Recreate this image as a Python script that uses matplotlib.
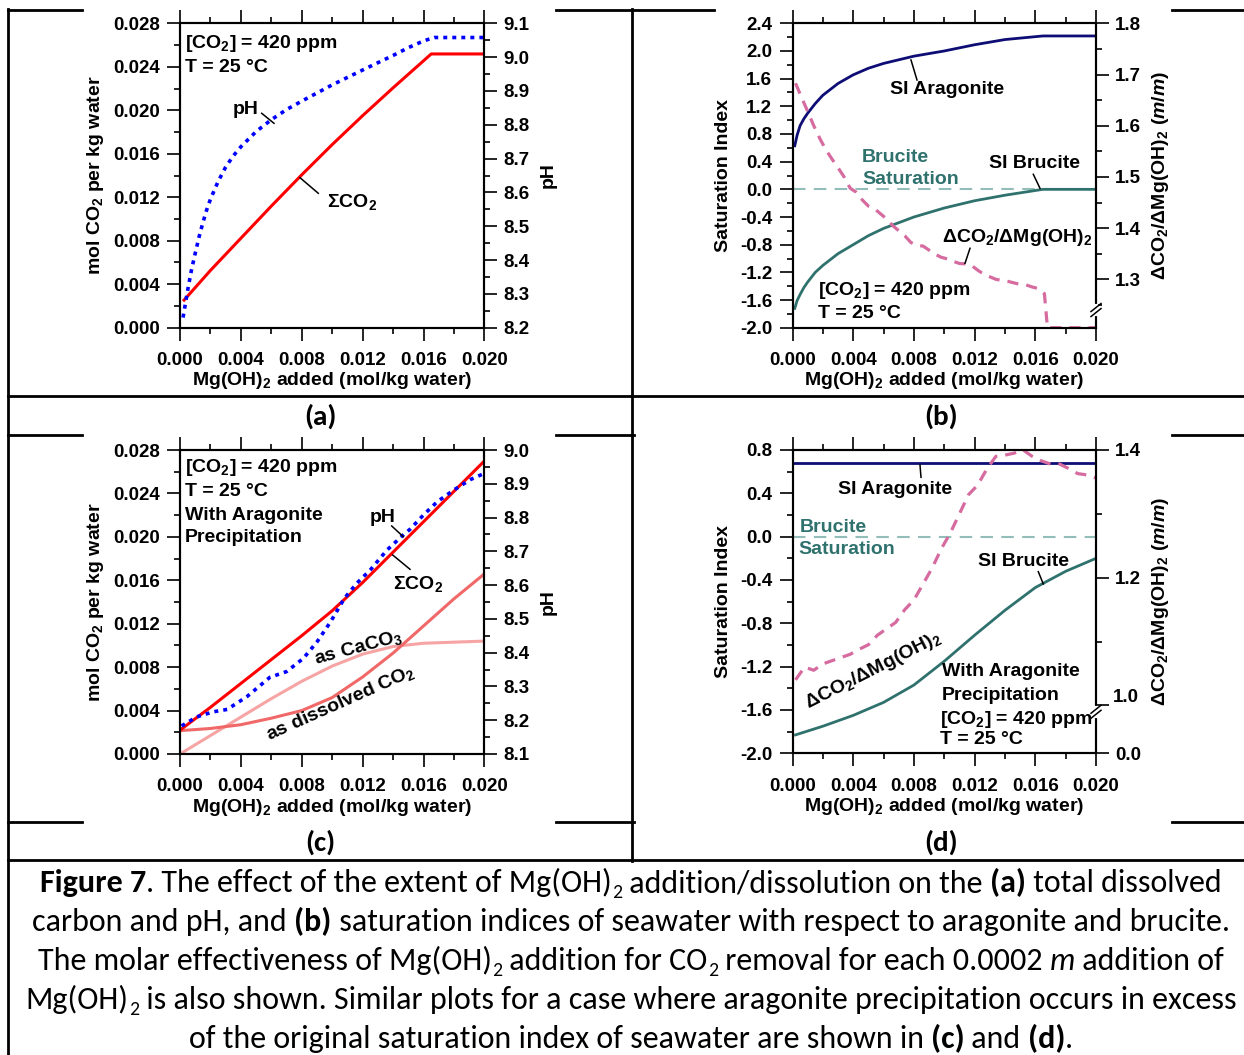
import numpy as np
import matplotlib
matplotlib.use("Agg")
import matplotlib.pyplot as plt
from matplotlib import font_manager
from matplotlib.lines import Line2D
from matplotlib.ticker import MultipleLocator, FixedLocator, FormatStrFormatter, FuncFormatter

# (a) Mg(OH)2 addition without aragonite precipitation
a_mg = [0.0002, 0.002, 0.004, 0.006, 0.008, 0.010, 0.012, 0.014, 0.0165, 0.018, 0.020]
a_sum_co2 = [0.00243, 0.00527, 0.00823, 0.01119, 0.01407, 0.01685, 0.01951, 0.02207,
             0.02518, 0.02518, 0.02518]
a_ph_mg = [0.0002, 0.0005, 0.00075, 0.001, 0.00125, 0.0015, 0.00175, 0.002, 0.0025,
           0.003, 0.0035, 0.004, 0.005, 0.006, 0.007, 0.008, 0.010, 0.012, 0.014,
           0.015, 0.016, 0.0167, 0.020]
a_ph = [8.23, 8.31, 8.37, 8.42, 8.468, 8.51, 8.548, 8.58, 8.632, 8.675, 8.708, 8.735,
        8.78, 8.815, 8.845, 8.87, 8.918, 8.962, 9.005, 9.028, 9.048, 9.058, 9.058]

# (b) saturation indices and CO2 uptake ratio
b_mg = [0.00015, 0.0003, 0.0005, 0.00075, 0.001, 0.0015, 0.002, 0.003, 0.004, 0.005,
        0.006, 0.008, 0.010, 0.012, 0.014, 0.0165, 0.020]
b_si_arag = [0.63, 0.78, 0.92, 1.02, 1.10, 1.24, 1.36, 1.53, 1.655, 1.75, 1.82, 1.925,
             2.00, 2.09, 2.165, 2.217, 2.217]
b_si_bruc = [-1.72, -1.61, -1.52, -1.42, -1.34, -1.20, -1.10, -0.93, -0.80, -0.67,
             -0.565, -0.40, -0.27, -0.165, -0.085, 0.0, 0.0]
b_ratio_mg = [0.0002, 0.0006, 0.0010, 0.0014, 0.0018, 0.0022, 0.0026, 0.0030, 0.0034,
              0.0038, 0.0042, 0.0046, 0.0050, 0.0054, 0.0058, 0.0062, 0.0066, 0.0070,
              0.0074, 0.0078, 0.0082, 0.0086, 0.0090, 0.0094, 0.0098, 0.0102, 0.0106,
              0.0110, 0.0114, 0.0118, 0.0122, 0.0126, 0.0130, 0.0134, 0.0138, 0.0142,
              0.0146, 0.0150, 0.0154, 0.0158, 0.0162, 0.0166, 0.0168, 0.0200]
b_ratio = [1.683, 1.655, 1.628, 1.60, 1.575, 1.553, 1.535, 1.518, 1.50, 1.478,
           1.47, 1.455, 1.443, 1.438, 1.428, 1.418, 1.405, 1.395, 1.385, 1.372,
           1.366, 1.365, 1.357, 1.349, 1.343, 1.340, 1.335, 1.331, 1.330, 1.327,
           1.318, 1.31, 1.305, 1.30, 1.298, 1.296, 1.293, 1.29, 1.289, 1.285,
           1.282, 1.272, 0.0, 0.0]
b_sat_mg = [0.0, 0.0165]

# (c) with aragonite precipitation
c_mg = [0.0, 0.002, 0.004, 0.006, 0.008, 0.010, 0.012, 0.014, 0.016, 0.018, 0.020]
c_sum_co2 = [0.0022, 0.0043, 0.0065, 0.0087, 0.0109, 0.0132, 0.0158, 0.0186, 0.0214,
             0.0242, 0.0270]
c_dissolved = [0.00215, 0.00235, 0.0027, 0.0033, 0.0040, 0.0052, 0.0071, 0.0093,
               0.0118, 0.0143, 0.0166]
c_caco3 = [0.0, 0.0017, 0.0034, 0.0051, 0.0067, 0.0081, 0.0092, 0.0099, 0.0102,
           0.0103, 0.0104]
c_ph_mg = [0.0001, 0.0011, 0.0022, 0.0031, 0.0044, 0.0059, 0.0070, 0.0081, 0.0090,
           0.0099, 0.0108, 0.0116, 0.0125, 0.0136, 0.0147, 0.0151, 0.0160, 0.0169,
           0.0180, 0.0191, 0.0200]
c_ph = [8.183, 8.21, 8.225, 8.232, 8.27, 8.327, 8.344, 8.383, 8.432, 8.492, 8.561,
        8.605, 8.645, 8.704, 8.75, 8.765, 8.808, 8.847, 8.882, 8.913, 8.931]

# (d) saturation indices with aragonite precipitation
d_arag_mg = [0.00013, 0.020]
d_si_arag = [0.68, 0.68]
d_mg = [0.0002, 0.002, 0.004, 0.006, 0.008, 0.010, 0.012, 0.014, 0.016, 0.018, 0.020]
d_si_bruc = [-1.83, -1.75, -1.65, -1.53, -1.37, -1.15, -0.91, -0.68, -0.47, -0.32, -0.20]
d_ratio_mg = [0.0002, 0.0008, 0.0014, 0.0020, 0.0026, 0.0032, 0.0038, 0.0044, 0.0050,
              0.0056, 0.0062, 0.0068, 0.0074, 0.0080, 0.0086, 0.0092, 0.0098, 0.0104,
              0.0110, 0.0116, 0.0122, 0.0128, 0.0134, 0.0140, 0.0146, 0.0152, 0.0158,
              0.0164, 0.0170, 0.0176, 0.0182, 0.0188, 0.0194, 0.0200]
d_ratio = [1.04, 1.06, 1.055, 1.065, 1.07, 1.075, 1.08, 1.088, 1.095, 1.11,
           1.12, 1.13, 1.15, 1.165, 1.19, 1.215, 1.245, 1.27, 1.30, 1.33,
           1.345, 1.37, 1.39, 1.392, 1.395, 1.40, 1.39, 1.383, 1.378, 1.378,
           1.371, 1.363, 1.361, 1.356]
d_sat_mg = [0.0, 0.020]

RED = "#FF0000"
BLUE = "#0000FF"
NAVY = "#0D0D75"
TEAL = "#2F716D"
SAT = "#93BDB9"
PINK = "#D66BA0"
SALMON = "#F06868"
LIGHT_PINK = "#F6A4A4"

W, H = 1244, 1055

plt.rcParams.update({
    "font.family": ["Liberation Sans", "DejaVu Sans"],
    "font.weight": "bold",
    "axes.labelweight": "bold",
    "axes.unicode_minus": False,
    "mathtext.fontset": "custom",
    "mathtext.rm": "Liberation Sans:bold",
    "mathtext.it": "Liberation Sans:italic:bold",
    "mathtext.bf": "Liberation Sans:bold",
    "mathtext.default": "rm",
})


def pick_family(names):
    for name in names:
        try:
            font_manager.findfont(name, fallback_to_default=False)
            return name
        except ValueError:
            continue
    return "DejaVu Sans"


CAPTION_FONT = pick_family(["Carlito", "Lato", "Open Sans", "DejaVu Sans"])

fig = plt.figure(figsize=(W / 100, H / 100), dpi=100)


def add_axes_px(x0, y0, x1, y1):
    return fig.add_axes([x0 / W, 1 - y1 / H, (x1 - x0) / W, (y1 - y0) / H])


def note(x, y, s, **kw):
    kw.setdefault("fontsize", 14)
    kw.setdefault("ha", "left")
    kw.setdefault("va", "center_baseline")
    return fig.text(x / W, 1 - y / H, s, **kw)


def leader(x0, y0, x1, y1):
    fig.add_artist(Line2D([x0 / W, x1 / W], [1 - y0 / H, 1 - y1 / H],
                          transform=fig.transFigure, color="black", lw=1.1))


def hline_px(y, segments, lw=2.0):
    for x0, x1 in segments:
        fig.add_artist(Line2D([x0 / W, x1 / W], [1 - y / H, 1 - y / H],
                              transform=fig.transFigure, color="black", lw=lw))


def vline_px(x, y0, y1, lw=2.0):
    fig.add_artist(Line2D([x / W, x / W], [1 - y0 / H, 1 - y1 / H],
                          transform=fig.transFigure, color="black", lw=lw))


def broken_scale(brk, squeeze):
    def fwd(v):
        v = np.asarray(v, dtype=float)
        return np.where(v >= brk, v, brk - (brk - v) * squeeze)

    def inv(u):
        u = np.asarray(u, dtype=float)
        return np.where(u >= brk, u, brk - (brk - u) / squeeze)
    return fwd, inv


def style(ax, twin):
    for sp in list(ax.spines.values()) + list(twin.spines.values()):
        sp.set_linewidth(1.5)
    ax.set_xlim(0, 0.020)
    ax.xaxis.set_major_locator(MultipleLocator(0.004))
    ax.xaxis.set_minor_locator(MultipleLocator(0.002))
    ax.xaxis.set_major_formatter(FormatStrFormatter("%.3f"))
    ax.tick_params(axis="both", which="major", direction="out", length=9.5, width=1.2,
                   pad=5, labelsize=13.5)
    ax.tick_params(axis="both", which="minor", direction="out", length=4.5, width=1.2)
    ax.tick_params(axis="x", which="both", top=True)
    ax.tick_params(axis="x", which="major", pad=8)
    twin.tick_params(axis="y", which="major", direction="out", length=9.5, width=1.2,
                     pad=4, labelsize=13.5)
    twin.tick_params(axis="y", which="minor", direction="out", length=4.5, width=1.2)
    ax.set_xlabel("Mg(OH)$_2$ added (mol/kg water)", fontsize=14)
    ax.xaxis.set_label_coords(0.5, -0.175)
    ax.xaxis.label.set_va("center")


def label_y(axis, text, xfrac):
    axis.set_label_text(text, fontsize=14)
    axis.set_label_coords(xfrac, 0.5)
    axis.label.set_va("center")
    axis.label.set_ha("center")
    axis.label.set_rotation(90)


def axis_break(twin, brk):
    fig.canvas.draw()
    yb = twin.transData.transform((0, brk))[1]
    xs = twin.get_position().x1 * W
    fig.add_artist(Line2D([xs / W, xs / W], [(yb - 4) / H, (yb + 4) / H],
                          transform=fig.transFigure, color="white", lw=3, zorder=5))
    for off in (-2.5, 2.5):
        fig.add_artist(Line2D([(xs - 5) / W, (xs + 5) / W],
                              [(yb + off - 4) / H, (yb + off + 4) / H],
                              transform=fig.transFigure, color="black", lw=1.1, zorder=6))


def co2_axes(ax):
    ax.set_ylim(0, 0.028)
    ax.yaxis.set_major_locator(MultipleLocator(0.004))
    ax.yaxis.set_minor_locator(MultipleLocator(0.002))
    ax.yaxis.set_major_formatter(FormatStrFormatter("%.3f"))
    label_y(ax.yaxis, "mol CO$_2$ per kg water", -0.279)


# ---------------- panel (a) ----------------
ax_a = add_axes_px(180, 23.3, 484.5, 327.7)
tw_a = ax_a.twinx()
ax_a.plot(a_mg, a_sum_co2, color=RED, lw=2.2, solid_capstyle="butt")
tw_a.plot(a_ph_mg, a_ph, color=BLUE, lw=2.6, ls=(0, (1.1, 1.4)))
co2_axes(ax_a)
tw_a.set_ylim(8.2, 9.1)
tw_a.yaxis.set_major_locator(MultipleLocator(0.1))
tw_a.yaxis.set_minor_locator(MultipleLocator(0.05))
tw_a.yaxis.set_major_formatter(FormatStrFormatter("%.1f"))
label_y(tw_a.yaxis, "pH", 1.209)
style(ax_a, tw_a)

# ---------------- panel (b) ----------------
ax_b = add_axes_px(792.5, 23.3, 1096, 327.7)
tw_b = ax_b.twinx()
ax_b.hlines(0.0, b_sat_mg[0], b_sat_mg[1], color=SAT, lw=1.5, linestyles=(0, (6, 4)))
ax_b.plot(b_mg, b_si_arag, color=NAVY, lw=2.0)
ax_b.plot(b_mg, b_si_bruc, color=TEAL, lw=2.0)
ax_b.set_ylim(-2.0, 2.4)
ax_b.yaxis.set_major_locator(MultipleLocator(0.4))
ax_b.yaxis.set_minor_locator(MultipleLocator(0.2))
ax_b.yaxis.set_major_formatter(FormatStrFormatter("%.1f"))
label_y(ax_b.yaxis, "Saturation Index", -0.226)
tw_b.set_yscale("function", functions=broken_scale(1.24, 0.0278))
tw_b.plot(b_ratio_mg, b_ratio, color=PINK, lw=2.3, ls=(0, (3.5, 2.5)))
tw_b.set_ylim(0, 1.8)
tw_b.yaxis.set_major_locator(FixedLocator([1.3, 1.4, 1.5, 1.6, 1.7, 1.8]))
tw_b.yaxis.set_minor_locator(FixedLocator([1.25, 1.35, 1.45, 1.55, 1.65, 1.75]))
tw_b.yaxis.set_major_formatter(FormatStrFormatter("%.1f"))
label_y(tw_b.yaxis, r"ΔCO$_2$/ΔMg(OH)$_2$ ($\mathit{m/m}$)", 1.211)
style(ax_b, tw_b)

# ---------------- panel (c) ----------------
ax_c = add_axes_px(180, 450, 484.5, 754)
tw_c = ax_c.twinx()
ax_c.plot(c_mg, c_caco3, color=LIGHT_PINK, lw=2.2)
ax_c.plot(c_mg, c_dissolved, color=SALMON, lw=2.2)
ax_c.plot(c_mg, c_sum_co2, color=RED, lw=2.2)
tw_c.plot(c_ph_mg, c_ph, color=BLUE, lw=2.6, ls=(0, (1.1, 1.4)))
co2_axes(ax_c)
tw_c.set_ylim(8.1, 9.0)
tw_c.yaxis.set_major_locator(MultipleLocator(0.1))
tw_c.yaxis.set_minor_locator(MultipleLocator(0.05))
tw_c.yaxis.set_major_formatter(FormatStrFormatter("%.1f"))
label_y(tw_c.yaxis, "pH", 1.209)
style(ax_c, tw_c)

# ---------------- panel (d) ----------------
ax_d = add_axes_px(792.5, 450, 1096, 753.3)
tw_d = ax_d.twinx()
ax_d.hlines(0.0, d_sat_mg[0], d_sat_mg[1], color=SAT, lw=1.5, linestyles=(0, (6, 4)))
ax_d.plot(d_arag_mg, d_si_arag, color=NAVY, lw=2.0)
ax_d.plot(d_mg, d_si_bruc, color=TEAL, lw=2.0)
ax_d.set_ylim(-2.0, 0.8)
ax_d.yaxis.set_major_locator(MultipleLocator(0.4))
ax_d.yaxis.set_minor_locator(MultipleLocator(0.2))
ax_d.yaxis.set_major_formatter(FormatStrFormatter("%.1f"))
label_y(ax_d.yaxis, "Saturation Index", -0.226)
tw_d.set_yscale("function", functions=broken_scale(0.99, 0.0657))
tw_d.plot(d_ratio_mg, d_ratio, color=PINK, lw=2.3, ls=(0, (3.5, 2.5)))
tw_d.set_ylim(0, 1.4)
tw_d.yaxis.set_major_locator(FixedLocator([0.0, 1.0, 1.2, 1.4]))
tw_d.yaxis.set_minor_locator(FixedLocator([1.1, 1.3]))
# the 1.0 label sits a little above its tick, clear of the axis break
tw_d.yaxis.set_major_formatter(FuncFormatter(lambda v, _: "" if abs(v - 1.0) < 1e-9 else f"{v:.1f}"))
label_y(tw_d.yaxis, r"ΔCO$_2$/ΔMg(OH)$_2$ ($\mathit{m/m}$)", 1.211)
style(ax_d, tw_d)
note(1113, 697, "1.0", fontsize=13.5, va="center")

axis_break(tw_b, 1.24)
axis_break(tw_d, 0.99)

# ---------------- in-panel notes ----------------
note(185, 40, "[CO$_2$] = 420 ppm")
note(185, 65, "T = 25 °C")
note(233, 108, "pH")
leader(261.7, 113.3, 274, 123.3)
note(327, 200, "ΣCO$_2$")
leader(300, 177.7, 318.3, 193.3)

note(890, 88, "SI Aragonite")
leader(911, 60, 917, 80)
note(862, 155, "Brucite", color=TEAL)
note(862, 177, "Saturation", color=TEAL)
note(989, 162, "SI Brucite")
leader(1033.3, 174.3, 1040, 188.3)
note(942, 235, "ΔCO$_2$/ΔMg(OH)$_2$")
leader(970, 248.3, 965, 263.3)
note(818, 288, "[CO$_2$] = 420 ppm")
note(818, 312, "T = 25 °C")

note(185, 465, "[CO$_2$] = 420 ppm")
note(185, 490, "T = 25 °C")
note(185, 513, "With Aragonite")
note(185, 535, "Precipitation")
note(370, 515, "pH")
leader(391.7, 526, 403.3, 536.7)
note(392.7, 582, "ΣCO$_2$")
leader(392.7, 555, 410, 569.3)
note(358, 648, "as CaCO$_3$", ha="center", va="center", rotation=15,
     rotation_mode="anchor")
note(340, 703, "as dissolved CO$_2$", ha="center", va="center", rotation=24,
     rotation_mode="anchor")

note(838, 487, "SI Aragonite")
leader(920, 465, 921, 477.3)
note(800, 526, "Brucite", color=TEAL)
note(798, 548, "Saturation", color=TEAL)
note(978, 559, "SI Brucite")
leader(1038.3, 571.7, 1043.3, 584)
note(873, 670, "ΔCO$_2$/ΔMg(OH)$_2$", ha="center", va="center", rotation=27,
     rotation_mode="anchor")
note(942, 670, "With Aragonite")
note(942, 694, "Precipitation")
note(940, 716, "[CO$_2$] = 420 ppm")
note(940, 738, "T = 25 °C")

# ---------------- table frame ----------------
hline_px(10, [(8, 82), (556, 714), (1172, 1244)])
hline_px(396, [(8, 1244)])
hline_px(435, [(8, 82), (556, 634), (1172, 1244)])
hline_px(822, [(8, 82), (556, 634), (1172, 1244)])
hline_px(860, [(8, 1244)])
vline_px(8, 9, 1055)
vline_px(632, 9, 861)

for x, y, s in [(320, 416, "(a)"), (941, 416, "(b)"), (320, 842, "(c)"), (941, 842, "(d)")]:
    fig.text(x / W, 1 - y / H, s, family=CAPTION_FONT, weight="bold", fontsize=21,
             ha="center", va="center")

# ---------------- caption ----------------
caption = [
    [("Figure 7", "bold"), (". The effect of the extent of Mg(OH)", "normal"), ("2", "sub"),
     (" addition/dissolution on the ", "normal"), ("(a)", "bold"), (" total dissolved", "normal")],
    [("carbon and pH, and ", "normal"), ("(b)", "bold"),
     (" saturation indices of seawater with respect to aragonite and brucite.", "normal")],
    [("The molar effectiveness of Mg(OH)", "normal"), ("2", "sub"), (" addition for CO", "normal"),
     ("2", "sub"), (" removal for each 0.0002 ", "normal"), ("m", "italic"),
     (" addition of", "normal")],
    [("Mg(OH)", "normal"), ("2", "sub"),
     (" is also shown. Similar plots for a case where aragonite precipitation occurs in excess",
      "normal")],
    [("of the original saturation index of seawater are shown in ", "normal"), ("(c)", "bold"),
     (" and ", "normal"), ("(d)", "bold"), (".", "normal")],
]

renderer = fig.canvas.get_renderer()


def run_props(kind, size):
    return dict(family=CAPTION_FONT,
                weight="bold" if kind == "bold" else "normal",
                style="italic" if kind == "italic" else "normal",
                fontsize=size * 0.62 if kind == "sub" else size)


def run_width(text, kind, size):
    props = run_props(kind, size)
    t1 = fig.text(0, 0, "|" + text + "|", **props)
    t2 = fig.text(0, 0, "||", **props)
    w = t1.get_window_extent(renderer).width - t2.get_window_extent(renderer).width
    t1.remove()
    t2.remove()
    return w


def line_width(runs, size):
    return sum(run_width(t, k, size) for t, k in runs)


cap_size = 20 * 1180 / line_width(caption[0], 20)
for i, runs in enumerate(caption):
    base = 892 + 39 * i
    widths = [run_width(t, k, cap_size) for t, k in runs]
    x = 631 - sum(widths) / 2
    for (text, kind), w in zip(runs, widths):
        drop = cap_size * 0.2 * 100 / 72 if kind == "sub" else 0
        fig.text(x / W, 1 - (base + drop) / H, text, ha="left", va="baseline",
                 **run_props(kind, cap_size))
        x += w

fig.savefig("out.png", dpi=100)
